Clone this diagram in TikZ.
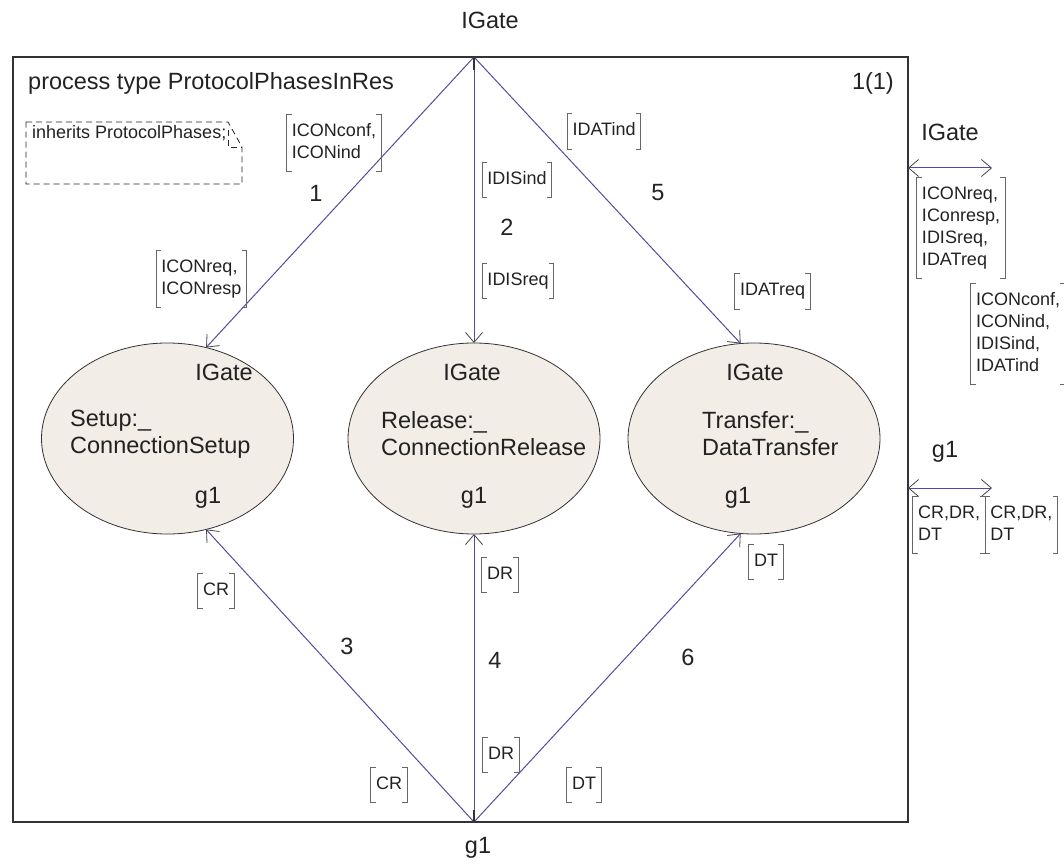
\documentclass[tikz,border=0pt]{standalone}
\usepackage{fontspec}
\setmainfont{Liberation Sans}
\usetikzlibrary{arrows.meta,shapes.geometric}

\definecolor{framecol}{HTML}{333333}
\definecolor{chancol}{RGB}{86,74,160}
\definecolor{tipcol}{HTML}{444444}
\definecolor{bracketcol}{HTML}{666666}
\definecolor{blockfill}{HTML}{F3EDE7}
\definecolor{inkcol}{HTML}{222222}

\newcommand\bigfont{\fontsize{23.5}{27}\selectfont}
\newcommand\smallfont{\fontsize{18}{22}\selectfont}

\tikzset{
  framebox/.style={draw=framecol, line width=1.1pt},
  txt/.style={font=\bigfont, text=inkcol, inner sep=0pt},
  blockname/.style={font=\bigfont, text=inkcol, inner sep=0pt, align=left, anchor=west},
  block/.style={ellipse, draw=black!80, fill=blockfill, line width=0.8pt,
    minimum width=252pt, minimum height=191pt, inner sep=0pt, outer sep=0pt},
  chan/.style={draw=chancol, line width=1pt,
    -{Straight Barb[length=10pt,width=17pt,color=tipcol,line width=0.8pt]}},
  biarrow/.style={draw=chancol, line width=1pt,
    {Straight Barb[length=10pt,width=17pt,color=tipcol,line width=0.8pt]}-{Straight Barb[length=10pt,width=17pt,color=tipcol,line width=0.8pt]}},
  sigtext/.style={font=\smallfont, text=inkcol, align=left, inner xsep=5pt, inner ysep=6.5pt},
  brk/.style={draw=bracketcol, line width=0.9pt},
  notebox/.style={draw=black!85, dash pattern=on 6pt off 4pt, line width=0.8pt},
  gatetick/.style={draw=framecol, line width=1.6pt},
}

% signal list: text between square brackets
\newcommand\siglist[4][]{%
  \node[sigtext,#1] (#2) at #3 {#4};
  \draw[brk] ([xshift=5pt]#2.north west) -- (#2.north west) -- (#2.south west) -- ([xshift=5pt]#2.south west)
             ([xshift=-5pt]#2.north east) -- (#2.north east) -- (#2.south east) -- ([xshift=-5pt]#2.south east);
}

\begin{document}
\begin{tikzpicture}[x=1pt,y=-1pt]
\useasboundingbox (0,0) rectangle (1064,866);

% diagram frame and header
\draw[framebox] (13,57) rectangle (908,822);
\node[txt, anchor=west] (title) at (28,83) {process type ProtocolPhasesInRes};
\node[txt, anchor=east] (page) at (894,83) {1(1)};

% inheritance note
\draw[notebox] (26,122) -- (228,122) -- (242,147) -- (242,184) -- (26,184) -- cycle;
\draw[notebox] (228,130) -- (228,147) -- (242,147);
\node[font=\smallfont, text=inkcol, inner sep=0pt, anchor=west] (inh) at (32,133) {inherits ProtocolPhases;};

% gates on the frame
\coordinate (topgate) at (474,57);
\coordinate (botgate) at (474,822);
\node[txt] (topgatename) at (490,20) {IGate};
\node[txt] (botgatename) at (478,848) {g1};

% process instances
\node[block] (setup) at (167.5,438.5) {};
\node[block] (release) at (474,438.5) {};
\node[block] (transfer) at (754,438.5) {};

\node[txt] (setupIG) at (224,372) {IGate};
\node[blockname] (setupname) at (70,434) {Setup:\_\\ConnectionSetup};
\node[txt] (setupg1) at (208,498) {g1};

\node[txt] (releaseIG) at (472,372) {IGate};
\node[blockname] (releasename) at (381,434) {Release:\_\\ConnectionRelease};
\node[txt] (releaseg1) at (474,498) {g1};

\node[txt] (transferIG) at (755,372) {IGate};
\node[blockname] (transfername) at (702,434) {Transfer:\_\\DataTransfer};
\node[txt] (transferg1) at (738,498) {g1};

% channels
\draw[chan] (topgate) -- (setup.67.6);
\draw[chan] (topgate) -- (release.north);
\draw[chan] (topgate) -- (transfer.98.4);
\draw[chan] (botgate) -- (setup.-67.6);
\draw[chan] (botgate) -- (release.south);
\draw[chan] (botgate) -- (transfer.-98.4);
\draw[gatetick] (topgate) -- ++(0,13);
\draw[gatetick] (botgate) -- ++(0,-12);

% channel numbers
\node[txt] (n1) at (316,193) {1};
\node[txt] (n2) at (507,227) {2};
\node[txt] (n5) at (658,193) {5};
\node[txt] (n3) at (347,646) {3};
\node[txt] (n4) at (495,660) {4};
\node[txt] (n6) at (688,657) {6};

% signal lists on the channels
\siglist{s1out}{(334,143)}{\strut ICONconf,\\\strut ICONind}
\siglist{s1in}{(201.5,279)}{\strut ICONreq,\\\strut ICONresp}
\siglist{s2out}{(517,180)}{\strut IDISind}
\siglist{s2in}{(518,281)}{\strut IDISreq}
\siglist{s5out}{(604,131.5)}{\strut IDATind}
\siglist{s5in}{(772.5,291.5)}{\strut IDATreq}
\siglist{s3a}{(216,591)}{\strut CR}
\siglist{s4a}{(500,575)}{\strut DR}
\siglist{s6a}{(766,562)}{\strut DT}
\siglist{s3b}{(389,785)}{\strut CR}
\siglist{s4b}{(501,755)}{\strut DR}
\siglist{s6b}{(584,785)}{\strut DT}

% gate definitions outside the frame
\coordinate (igR) at (908,168);
\coordinate (igEnd) at (992,168);
\node[txt] (igname) at (950,132) {IGate};
\draw[biarrow] (igR) -- (igEnd);
\siglist{gateIn}{(961,228)}{\strut ICONreq,\\\strut IConresp,\\\strut IDISreq,\\\strut IDATreq}
\siglist{gateOut}{(1018,334)}{\strut ICONconf,\\\strut ICONind,\\\strut IDISind,\\\strut IDATind}

\coordinate (g1R) at (908,488);
\coordinate (g1End) at (992,488);
\node[txt] (g1name) at (945,452) {g1};
\draw[biarrow] (g1R) -- (g1End);
\siglist{g1a}{(949,525)}{\strut CR,DR,\\\strut DT}
\siglist[anchor=west]{g1b}{(g1a.east)}{\strut CR,DR,\\\strut DT}

\end{tikzpicture}
\end{document}
